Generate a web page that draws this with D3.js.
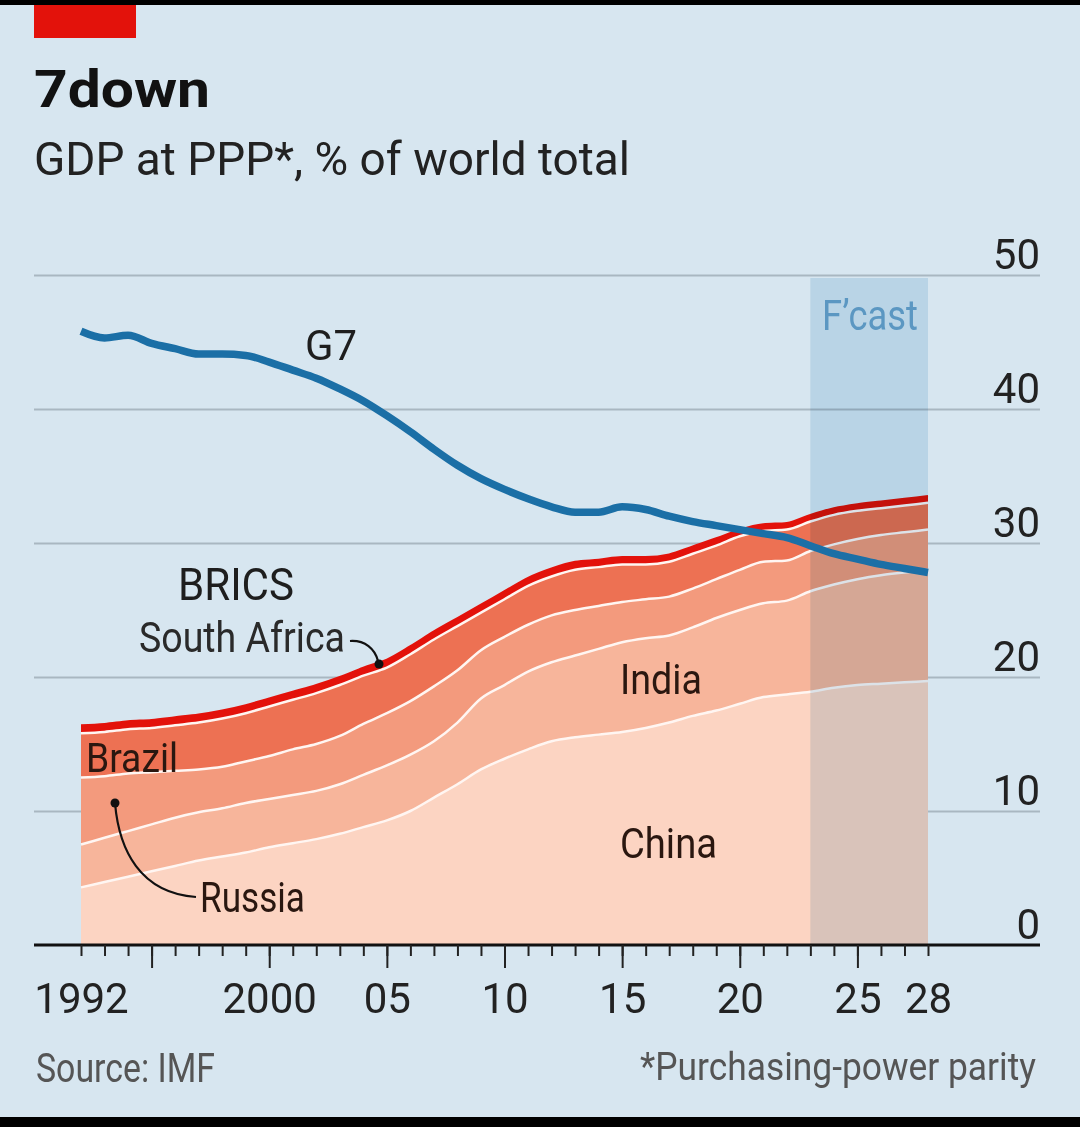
<!DOCTYPE html>
<html>
<head>
<meta charset="utf-8">
<script src="https://cdn.jsdelivr.net/npm/d3@7"></script>
<style>
  html, body { margin: 0; padding: 0; background: #d7e6f0; }
  svg { display: block; }
  text { font-family: Roboto, "Noto Sans", sans-serif; }
</style>
</head>
<body>
<svg id="chart" width="1080" height="1127"></svg>
<script>
// ---------------- DATA ----------------
const years = [1992,1993,1994,1995,1996,1997,1998,1999,2000,2001,2002,2003,2004,2005,2006,2007,2008,2009,2010,
               2011,2012,2013,2014,2015,2016,2017,2018,2019,2020,2021,2022,2023,2024,2025,2026,2027,2028];
const china  = [4.3,4.7,5.1,5.5,5.9,6.3,6.6,6.9,7.3,7.6,7.9,8.3,8.8,9.3,10.0,11.0,12.0,13.1,13.9,
                14.6,15.2,15.5,15.7,15.9,16.2,16.6,17.1,17.5,18.0,18.5,18.7,18.9,19.2,19.4,19.5,19.6,19.7];
const india  = [3.2,3.3,3.4,3.5,3.6,3.6,3.6,3.7,3.6,3.6,3.6,3.7,3.9,4.1,4.2,4.2,4.6,5.3,5.5,
                5.8,5.9,6.1,6.4,6.7,6.7,6.5,6.6,6.9,7.0,7.0,7.0,7.5,7.7,7.9,8.1,8.2,8.3];
const russia = [5.0,4.6,4.3,3.9,3.5,3.2,3.1,3.1,3.2,3.4,3.5,3.6,3.8,3.9,4.0,4.1,3.9,3.6,3.6,
                3.5,3.5,3.4,3.2,3.0,2.9,2.9,2.9,2.9,3.0,3.1,3.0,3.0,3.0,3.0,3.0,3.0,3.0];
const brazil = [3.3,3.3,3.3,3.3,3.4,3.5,3.6,3.6,3.7,3.7,3.8,3.8,3.6,3.4,3.5,3.5,3.3,2.8,2.8,
                2.9,2.9,3.0,2.9,2.8,2.6,2.6,2.6,2.5,2.5,2.3,2.3,2.2,2.2,2.1,2.0,2.0,2.0];
const southAfrica = [0.6,0.6,0.6,0.6,0.6,0.6,0.6,0.6,0.6,0.6,0.6,0.6,0.6,0.6,0.6,0.6,0.6,0.6,0.6,
                0.6,0.6,0.6,0.55,0.55,0.55,0.55,0.55,0.55,0.5,0.5,0.5,0.5,0.5,0.5,0.5,0.5,0.5];
const g7     = [45.8,45.3,45.5,44.9,44.5,44.1,44.1,44.0,43.5,42.9,42.3,41.5,40.6,39.5,38.3,37.0,35.8,34.8,34.0,
                33.3,32.7,32.3,32.3,32.7,32.5,32.0,31.6,31.3,31.0,30.7,30.4,29.8,29.2,28.8,28.4,28.1,27.8];
const seriesKeys = ["China","India","Russia","Brazil","South Africa"];
const seriesColors = ["#fcd4c2","#f7b59b","#f39a7d","#ed7153","#e3120b"];
const yTickValues = [0,10,20,30,40,50];
const xLabelYears = [1992,2000,2005,2010,2015,2020,2025,2028];
const xLabelTexts = ["1992","2000","05","10","15","20","25","28"];
const xMajorTickYears = [1995,2000,2005,2010,2015,2020,2025];
const forecastStart = 2023, forecastEnd = 2028;

// ---------------- LAYOUT ----------------
const svg = d3.select("#chart");
const W = 1080, H = 1127;
const gridLeft = 34, gridRight = 1040;
const x = d3.scaleLinear().domain([1992, 2028]).range([81, 928]);
const y = d3.scaleLinear().domain([0, 50]).range([945, 275]);

svg.append("rect").attr("width", W).attr("height", H).attr("fill", "#d7e6f0");
svg.append("rect").attr("x", 0).attr("y", 0).attr("width", W).attr("height", 5).attr("fill", "#000");
svg.append("rect").attr("x", 0).attr("y", 1117).attr("width", W).attr("height", H - 1117).attr("fill", "#000");
svg.append("rect").attr("x", 34).attr("y", 5).attr("width", 102).attr("height", 33).attr("fill", "#e3120b");

function label(txt, xx, yy, size, width, opts = {}) {
  const t = svg.append("text").attr("x", xx).attr("y", yy)
    .attr("font-size", size).attr("fill", opts.fill || "#1e1e1e")
    .attr("font-weight", opts.weight || 400)
    .attr("text-anchor", opts.anchor || "start")
    .text(txt);
  if (width) t.attr("textLength", width).attr("lengthAdjust", "spacingAndGlyphs");
  return t;
}

label("7down", 34, 107, 52, 176, {weight: 700, fill: "#121212"});
label("GDP at PPP*, % of world total", 34, 175, 46, 596, {fill: "#222"});

// ---------------- GRID + Y AXIS ----------------
const yAxis = d3.axisLeft(y).tickValues(yTickValues.filter(v => v > 0))
  .tickSize(gridRight - gridLeft).tickFormat(d3.format("d"));
const gy = svg.append("g").attr("transform", `translate(${gridRight},0)`).call(yAxis);
gy.select(".domain").remove();
gy.selectAll(".tick line").attr("stroke", "#a9b7c1").attr("stroke-width", 2);
gy.selectAll(".tick text").remove();

// ---------------- STACKED AREAS ----------------
const rows = years.map((yr, i) => ({
  year: yr, "China": china[i], "India": india[i], "Russia": russia[i],
  "Brazil": brazil[i], "South Africa": southAfrica[i]
}));
const stack = d3.stack().keys(seriesKeys)(rows);
const curve = d3.curveMonotoneX;
const area = d3.area().x(d => x(d.data.year)).y0(d => y(d[0])).y1(d => y(d[1])).curve(curve);
const topLine = d3.line().x(d => x(d.data.year)).y(d => y(d[1])).curve(curve);

svg.append("g").selectAll("path").data(stack).join("path")
  .attr("d", area).attr("fill", (d, i) => seriesColors[i]);

// white separators between country layers
svg.append("g").selectAll("path").data(stack.slice(0, 4)).join("path")
  .attr("d", topLine).attr("fill", "none").attr("stroke", "#fff6f2").attr("stroke-width", 2.5);
// red outline of top (South Africa)
svg.append("path").datum(stack[4]).attr("d", topLine)
  .attr("fill", "none").attr("stroke", "#e3120b").attr("stroke-width", 2);

// ---------------- FORECAST BAND ----------------
svg.append("rect")
  .attr("x", x(forecastStart)).attr("y", y(50) + 3)
  .attr("width", x(forecastEnd) - x(forecastStart)).attr("height", y(0) - y(50) - 3)
  .attr("fill", "#dcebf5").style("mix-blend-mode", "multiply");
label("F\u2019cast", 822, 330, 42, 96, {fill: "#5b97c2"});

// ---------------- G7 LINE ----------------
const g7Line = d3.line().x((d, i) => x(years[i])).y(d => y(d)).curve(curve);
svg.append("path").datum(g7).attr("d", g7Line)
  .attr("fill", "none").attr("stroke", "#1b6fa6").attr("stroke-width", 7.5)
  .attr("stroke-linejoin", "round");

// ---------------- X AXIS ----------------
const baseY = y(0);
svg.append("line").attr("x1", gridLeft).attr("x2", gridRight).attr("y1", baseY).attr("y2", baseY)
  .attr("stroke", "#111").attr("stroke-width", 3);
const minorAxis = d3.axisBottom(x).tickValues(years).tickSize(11).tickFormat("");
const gMinor = svg.append("g").attr("transform", `translate(0,${baseY})`).call(minorAxis);
gMinor.select(".domain").remove();
gMinor.selectAll(".tick line").attr("stroke", "#222").attr("stroke-width", 2);
const majorAxis = d3.axisBottom(x).tickValues(xMajorTickYears).tickSize(23).tickFormat("");
const gMajor = svg.append("g").attr("transform", `translate(0,${baseY})`).call(majorAxis);
gMajor.select(".domain").remove();
gMajor.selectAll(".tick line").attr("stroke", "#222").attr("stroke-width", 2);
const labelAxis = d3.axisBottom(x).tickValues(xLabelYears).tickSize(0)
  .tickFormat((d, i) => xLabelTexts[i]);
const gLab = svg.append("g").attr("transform", `translate(0,${baseY})`).call(labelAxis);
gLab.select(".domain").remove();
gLab.selectAll(".tick text").attr("y", 68).attr("dy", 0)
  .attr("font-size", 42).attr("fill", "#222").attr("font-family", "Roboto, sans-serif");

// y labels (right, above gridlines)
const yLab = d3.axisRight(y).tickValues(yTickValues).tickSize(0).tickFormat(d3.format("d"));
const gyl = svg.append("g").attr("transform", `translate(${gridRight},0)`).call(yLab);
gyl.select(".domain").remove();
gyl.selectAll(".tick text").attr("x", 0).attr("dy", -7).attr("dominant-baseline", "auto")
  .attr("text-anchor", "end").attr("font-size", 42).attr("fill", "#222")
  .attr("font-family", "Roboto, sans-serif");

// ---------------- ANNOTATIONS ----------------
label("G7", 305, 360, 42, 52);
label("BRICS", 178, 600, 44, 116);
label("South Africa", 139, 652, 42, 206, {fill: "#2a2a2a"});
label("Brazil", 86, 772, 40, 92, {fill: "#2a1710"});
label("Russia", 200, 912, 42, 105, {fill: "#2a1710"});
label("India", 620, 694, 42, 82, {fill: "#2a1710"});
label("China", 620, 858, 42, 97, {fill: "#2a1710"});

// South Africa pointer
svg.append("path").attr("d", "M350,641 C365,640 375,649 378,661")
  .attr("fill", "none").attr("stroke", "#111").attr("stroke-width", 2.2);
svg.append("circle").attr("cx", 379).attr("cy", 664).attr("r", 4.5).attr("fill", "#111");
// Russia pointer
svg.append("path").attr("d", "M115,803 C119,850 140,893 196,897")
  .attr("fill", "none").attr("stroke", "#111").attr("stroke-width", 2.2);
svg.append("circle").attr("cx", 115).attr("cy", 803).attr("r", 4.5).attr("fill", "#111");

// ---------------- FOOTER ----------------
label("Source: IMF", 36, 1082, 40, 179, {fill: "#555"});
label("*Purchasing-power parity", 640, 1080, 38, 396, {fill: "#555"});
</script>
</body>
</html>
